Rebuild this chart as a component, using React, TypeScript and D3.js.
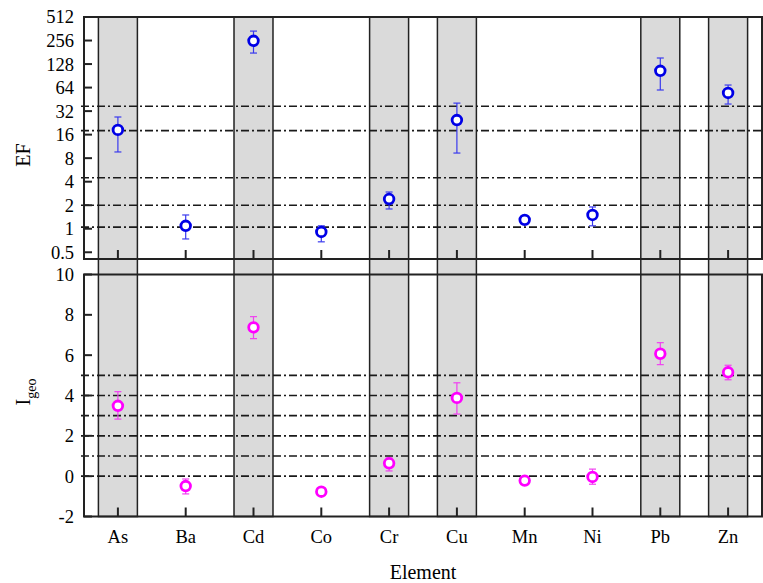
import React from "react";
import * as d3 from "d3";

const elements = ["As", "Ba", "Cd", "Co", "Cr", "Cu", "Mn", "Ni", "Pb", "Zn"];
const shaded = ["As", "Cd", "Cr", "Cu", "Pb", "Zn"];

const efMean = [18.4, 1.09, 254, 0.91, 2.4, 24.6, 1.3, 1.5, 105, 54.6];
const efLow = [9.6, 0.74, 177, 0.68, 1.79, 9.3, 1.25, 1.09, 59.6, 39.4];
const efHigh = [26.9, 1.5, 338, 1.09, 2.95, 40.5, 1.35, 1.9, 153, 69];

const igeoMean = [3.49, -0.49, 7.38, -0.77, 0.64, 3.88, -0.22, -0.04, 6.07, 5.15];
const igeoLow = [2.83, -0.88, 6.82, -0.9, 0.26, 3.08, -0.28, -0.4, 5.53, 4.78];
const igeoHigh = [4.19, -0.14, 7.91, -0.62, 0.9, 4.63, -0.16, 0.35, 6.62, 5.5];

const efClassLines = [1.05, 2, 4.5, 18, 37];
const igeoClassLines = [0, 1, 2, 3, 4, 5];

const efTicks = [0.5, 1, 2, 4, 8, 16, 32, 64, 128, 256, 512];
const igeoTicks = [-2, 0, 2, 4, 6, 8, 10];

const W = 763;
const H = 583;
const left = 84;
const right = 762;
const topPanel = { top: 17, bottom: 259 };
const botPanel = { top: 274.5, bottom: 516.5 };
const font = "'Liberation Serif', 'Times New Roman', serif";

const x = d3.scaleBand<string>().domain(elements).range([left, right]).padding(0);
const cx = (e: string) => (x(e) as number) + x.bandwidth() / 2;
const bandW = x.bandwidth() * 0.575;

const yTop = d3.scaleLog().base(2).domain([0.41, 512]).range([topPanel.bottom, topPanel.top]);
const yBot = d3.scaleLinear().domain([-2, 10]).range([botPanel.bottom, botPanel.top]);

type Panel = { top: number; bottom: number };

function Frame({ p }: { p: Panel }) {
  return (
    <g>
      <rect x={left} y={p.top} width={right - left} height={p.bottom - p.top}
        fill="none" stroke="#222" strokeWidth={2} />
      {elements.map((e) => (
        <line key={e} x1={cx(e)} x2={cx(e)} y1={p.bottom} y2={p.bottom - 9}
          stroke="#222" strokeWidth={2} />
      ))}
    </g>
  );
}

function Points({ mean, low, high, y, color, barColor }: {
  mean: number[]; low: number[]; high: number[];
  y: (v: number) => number; color: string; barColor: string;
}) {
  return (
    <g>
      {elements.map((e, i) => {
        const px = cx(e);
        return (
          <g key={e}>
            <line x1={px} x2={px} y1={y(low[i])} y2={y(high[i])} stroke={barColor} strokeWidth={1.2} />
            <line x1={px - 3.5} x2={px + 3.5} y1={y(low[i])} y2={y(low[i])} stroke={barColor} strokeWidth={1.2} />
            <line x1={px - 3.5} x2={px + 3.5} y1={y(high[i])} y2={y(high[i])} stroke={barColor} strokeWidth={1.2} />
            <circle cx={px} cy={y(mean[i])} r={4.8} fill="white" stroke={color} strokeWidth={2.8} />
          </g>
        );
      })}
    </g>
  );
}

function ClassLines({ values, y }: { values: number[]; y: (v: number) => number }) {
  return (
    <g>
      {values.map((v) => (
        <line key={v} x1={81} x2={right} y1={y(v)} y2={y(v)}
          stroke="#1a1a1a" strokeWidth={1.6} strokeDasharray="8,3,2,3" />
      ))}
    </g>
  );
}

export default function App() {
  return (
    <svg width={W} height={H} style={{ position: "absolute", left: 0, top: 0, background: "white" }}
      fontFamily={font}>
      <rect width={W} height={H} fill="white" />
      {/* shaded element bands across both panels */}
      {shaded.map((e) => (
        <rect key={e} x={cx(e) - bandW / 2} y={topPanel.top} width={bandW}
          height={botPanel.bottom - topPanel.top} fill="#dadada" stroke="#222" strokeWidth={1.5} />
      ))}
      <ClassLines values={efClassLines} y={yTop} />
      <ClassLines values={igeoClassLines} y={yBot} />
      <Frame p={topPanel} />
      <Frame p={botPanel} />

      {/* y ticks, inward */}
      {efTicks.map((t) => (
        <g key={"ef" + t}>
          <line x1={left} x2={left + 8} y1={yTop(t)} y2={yTop(t)} stroke="#222" strokeWidth={2} />
          <text x={74} y={yTop(t)} dy="0.35em" textAnchor="end" fontSize={18.5}>{t}</text>
        </g>
      ))}
      {igeoTicks.map((t) => (
        <g key={"ig" + t}>
          <line x1={left} x2={left + 8} y1={yBot(t)} y2={yBot(t)} stroke="#222" strokeWidth={2} />
          <text x={74} y={yBot(t)} dy="0.35em" textAnchor="end" fontSize={18.5}>{t}</text>
        </g>
      ))}

      <Points mean={efMean} low={efLow} high={efHigh} y={yTop} color="#0000e6" barColor="#3a3aee" />
      <Points mean={igeoMean} low={igeoLow} high={igeoHigh} y={yBot} color="#ff00ff" barColor="#f040f0" />

      {elements.map((e) => (
        <text key={e} x={cx(e)} y={543} textAnchor="middle" fontSize={18.5}>{e}</text>
      ))}
      <text x={(left + right) / 2} y={579} textAnchor="middle" fontSize={20}>Element</text>

      <text transform="translate(30,155) rotate(-90)" textAnchor="middle" fontSize={20}>EF</text>
      <text transform="translate(30,392) rotate(-90)" textAnchor="middle" fontSize={20}>
        I<tspan fontSize={14} dy={6}>geo</tspan>
      </text>
    </svg>
  );
}
